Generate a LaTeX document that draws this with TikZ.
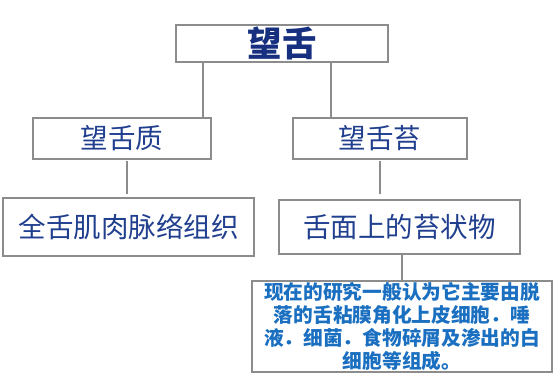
\documentclass[tikz,border=0pt]{standalone}
\usepackage{fontspec}
\setmainfont{Noto Sans CJK SC}
\definecolor{boxgray}{HTML}{8C8C8C}
\definecolor{navy}{HTML}{16307F}
\definecolor{midblue}{HTML}{213F8F}
\definecolor{lightblue}{HTML}{1A6FC0}
\tikzset{
  box/.style={draw=boxgray, line width=2pt, fill=white, inner sep=0pt, outer sep=0pt},
  conn/.style={draw=boxgray, line width=2.4pt},
  midtext/.style={text=midblue, font=\fontsize{27.5}{30}\selectfont},
}
\begin{document}
\begin{tikzpicture}[x=1pt,y=-1pt]
\useasboundingbox (0,0) rectangle (554,385);
\node[box, minimum width=212pt, minimum height=37pt, text=navy, font=\fontsize{34.5}{36}\selectfont\bfseries] (top) at (282,43.5) {望舌};
\node[box, minimum width=178pt, minimum height=41pt, midtext] (zhi) at (122,138.5) {望舌质};
\node[box, minimum width=174pt, minimum height=41pt, midtext] (tai) at (380,138.5) {望舌苔};
\node[box, minimum width=251pt, minimum height=58pt, midtext] (ql) at (128.5,227) {全舌肌肉脉络组织};
\node[box, minimum width=241pt, minimum height=54pt, midtext] (sm) at (399.5,227) {舌面上的苔状物};
\node[box, minimum width=300pt, minimum height=91pt, text=lightblue, align=center, font=\fontsize{19.7}{22.7}\selectfont\bfseries] (desc) at (402,326.5) {现在的研究一般认为它主要由脱\\落的舌粘膜角化上皮细胞．唾\\液．细菌．食物碎屑及渗出的白\\细胞等组成。};
\coordinate (bl) at (203,62);
\coordinate (br) at (331,62);
\coordinate (lv1) at (127,161);
\coordinate (lv2) at (127,194);
\coordinate (rv1) at (380,161);
\coordinate (rv2) at (380,194);
\draw[conn] (zhi.north) -| (bl) -- (br) |- (tai.north);
\draw[conn] (lv1) -- (lv2);
\draw[conn] (rv1) -- (rv2);
\draw[conn] (sm.south -| desc.north) -- (desc.north);
\end{tikzpicture}
\end{document}
